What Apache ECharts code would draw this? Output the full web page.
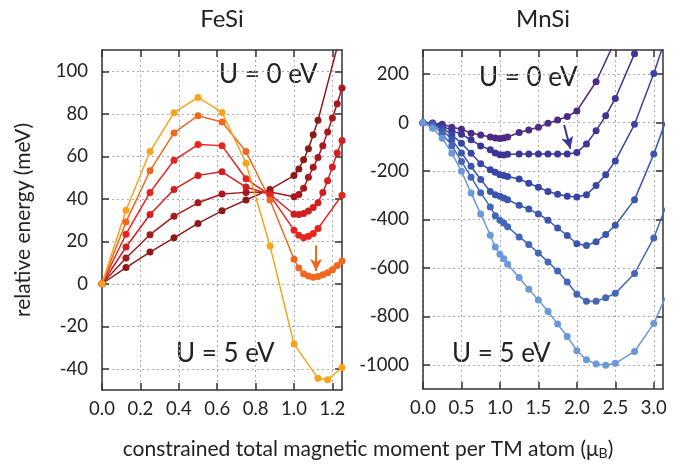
<!DOCTYPE html>
<html>
<head>
<meta charset="utf-8">
<script src="https://cdn.jsdelivr.net/npm/echarts@6/dist/echarts.min.js"></script>
<style>
  html, body { margin: 0; padding: 0; background: #fff; }
  #chart { width: 681px; height: 466px; }
</style>
</head>
<body>
<div id="chart"></div>
<script>
const FONT = 'Lato';

// FeSi: constrained moment (muB) and relative energy (meV), U = 0 .. 5 eV
const feX  = [0, 0.125, 0.25, 0.375, 0.5, 0.625, 0.75, 0.875, 1.0, 1.025, 1.05, 1.075, 1.1, 1.125, 1.15, 1.175, 1.2, 1.225, 1.25];
const feU0 = [0, 7.6, 14.9, 21.6, 28.4, 34.3, 39.4, 44.4, 50.9, 54.0, 58.3, 63.5, 70.1, 76.9, null, null, null, null, 120];
const feU1 = [0, 12.1, 23.1, 31.8, 38.1, 42.2, 43.0, 43.2, 40.9, 42.0, 44.9, 50.1, 54.8, 59.4, 65.0, 71.4, 78.0, 84.7, 92.1];
const feU2 = [0, 17.3, 32.6, 44.4, 51.0, 52.7, 45.5, 42.0, 32.7, 32.6, 33.1, 34.2, 35.9, 38.1, 43.0, 48.5, 55.0, 61.5, 67.4];
const feU3 = [0, 23.3, 43.0, 58.1, 65.5, 65.0, 49.4, 41.7, 25.2, 22.8, 21.7, 22.4, 23.6, 26.0, null, null, null, null, 41.7];
const feU4 = [0, 29.1, 53.2, 71.0, 79.1, 76.1, 62.2, 39.4, 11.5, 7.4, 4.7, 3.6, 3.1, 3.4, 4.2, 5.2, 6.6, 8.6, 10.7];
const feU5 = [0, 34.6, 62.2, 80.5, 87.7, 80.6, 56.7, 17.8, -28.4, null, null, null, null, -44.5, null, -45.2, null, null, -39.4];
const feColors = ['#8c1a17', '#a8181c', '#d11f22', '#e8241e', '#f0681f', '#f8a31b'];

// MnSi
const mnX  = [0, 0.125, 0.25, 0.375, 0.5, 0.625, 0.75, 0.875, 0.94, 1.0, 1.05, 1.1, 1.25, 1.375, 1.5, 1.625, 1.75, 1.875, 2.0, 2.125, 2.25, 2.375, 2.5, 2.75, 3.0, 3.25];
const mnU0 = [0, -1, -7, -19, -27, -44, -51, -59, -63, -66, -63, -59, -41, -30, -19, -3, 11, 25, 48, null, 169, null, 340, null, null, null];
const mnU1 = [0, -3, -14, -33, -48, -71, -96, -112, -125, -133, -134, -131, -130, -130, -130, -130, -130, -130, -123, -88, -33, 28, 100, 285, 500, null];
const mnU2 = [0, -4, -22, -50, -85, -126, -170, -195, -205, -215, -218, -222, -233, -250, -267, -284, -296, -304, -307, -298, -260, -215, -158, -7, 203, 440];
const mnU3 = [0, -5, -30, -70, -125, -180, -235, -284, -298, -304, -311, -318, -341, -357, -377, -403, -435, -466, -500, -507, -492, -462, -424, -318, -130, 90];
const mnU4 = [0, -10, -45, -95, -160, -225, -290, -348, -384, -403, -414, -430, -472, -503, -538, -575, -613, -658, -709, -738, -738, -723, -705, -623, -476, -270];
const mnU5 = [0, -23, -64, -126, -201, -291, -377, -465, -514, -544, -562, -585, -640, -688, -732, -780, -832, -883, -942, -979, -997, -1002, -994, -945, -830, -650];
const mnColors = ['#4d2a84', '#3a3597', '#3746a6', '#3b56ae', '#4466b8', '#6b98d7'];

const feTicksX = [0, 0.2, 0.4, 0.6, 0.8, 1.0, 1.2];
const feTicksY = [-40, -20, 0, 20, 40, 60, 80, 100];
const mnTicksX = [0, 0.5, 1.0, 1.5, 2.0, 2.5, 3.0];
const mnTicksY = [-1000, -800, -600, -400, -200, 0, 200];

const chart = echarts.init(document.getElementById('chart'));

function pairs(xs, ys) {
  const out = [];
  xs.forEach((x, i) => { if (ys[i] != null) out.push([x, ys[i]]); });
  return out;
}

const frame = { color: '#333', width: 1.5 };
function axis(gi, pos, min, max, ticks, withLabels, fmt) {
  return {
    type: 'value', gridIndex: gi, position: pos, min: min, max: max,
    axisLine: { show: true, onZero: false, lineStyle: frame },
    axisTick: { show: true, inside: true, length: 7, customValues: ticks, lineStyle: frame },
    axisLabel: {
      show: withLabels, customValues: ticks, color: '#222', fontFamily: FONT, fontSize: 18.5,
      margin: pos === 'bottom' ? 10 : 14, formatter: fmt
    },
    splitLine: { show: withLabels, lineStyle: { type: [2, 3], color: '#aaa', width: 1 } }
  };
}
const f1 = v => v.toFixed(1);
const f0 = v => String(v);

function lines(xs, ysList, colors, gi) {
  return ysList.map((ys, i) => ({
    type: 'line', xAxisIndex: gi * 2, yAxisIndex: gi * 2,
    data: pairs(xs, ys),
    symbol: 'circle', symbolSize: 7, showSymbol: true,
    lineStyle: { color: colors[i], width: 1.5 },
    itemStyle: { color: colors[i] },
    animation: false, silent: true
  }));
}

const feSeries = lines(feX, [feU0, feU1, feU2, feU3, feU4, feU5], feColors, 0);
const mnSeries = lines(mnX, [mnU0, mnU1, mnU2, mnU3, mnU4, mnU5], mnColors, 1);

function arrow(color, from, to) {
  return {
    silent: true, symbol: ['none', 'arrow'], symbolSize: [9, 12],
    lineStyle: { color: color, width: 2, type: 'solid' },
    label: { show: false },
    data: [[{ coord: from }, { coord: to }]]
  };
}
feSeries[4].markLine = arrow(feColors[4], [1.115, 18], [1.115, 6]);
mnSeries[1].markLine = arrow(mnColors[1], [1.835, -10], [1.915, -108]);

function txt(x, y, s, size, align) {
  return {
    type: 'text', x: x, y: y, silent: true,
    style: { text: s, fill: '#222', font: size + 'px ' + FONT, textAlign: align || 'left', textVerticalAlign: 'middle' }
  };
}

chart.setOption({
  animation: false,
  grid: [
    { left: 102, right: 339, top: 50, bottom: 76 },
    { left: 423, right: 18, top: 50, bottom: 77 }
  ],
  xAxis: [
    axis(0, 'bottom', 0, 1.25, feTicksX, true, f1),
    axis(0, 'top', 0, 1.25, feTicksX, false),
    axis(1, 'bottom', 0, 3.12, mnTicksX, true, f1),
    axis(1, 'top', 0, 3.12, mnTicksX, false)
  ],
  yAxis: [
    axis(0, 'left', -50, 110, feTicksY, true, f0),
    axis(0, 'right', -50, 110, feTicksY, false),
    axis(1, 'left', -1100, 300, mnTicksY, true, f0),
    axis(1, 'right', -1100, 300, mnTicksY, false)
  ],
  series: feSeries.concat(mnSeries),
  graphic: [
    txt(222, 19, 'FeSi', 24, 'center'),
    txt(543, 19, 'MnSi', 24, 'center'),
    txt(219, 75, 'U = 0 eV', 26),
    txt(176, 354, 'U = 5 eV', 26),
    txt(479, 78, 'U = 0 eV', 26),
    txt(452, 354, 'U = 5 eV', 26),
    {
      type: 'text', x: 23, y: 220, rotation: Math.PI / 2, silent: true,
      style: { text: 'relative energy (meV)', fill: '#222', font: '21px ' + FONT, textAlign: 'center', textVerticalAlign: 'middle' }
    },
    {
      type: 'text', x: 368, y: 449, silent: true,
      style: {
        text: 'constrained total magnetic moment per TM atom ({a|μ}{b|B})',
        fill: '#222', font: '21px ' + FONT, textAlign: 'center', textVerticalAlign: 'middle',
        rich: {
          a: { fontFamily: FONT, fontSize: 21, fill: '#222' },
          b: { fontFamily: FONT, fontSize: 14, fill: '#222', verticalAlign: 'bottom', padding: [9, 0, 0, 0] }
        }
      }
    }
  ]
});
</script>
</body>
</html>
